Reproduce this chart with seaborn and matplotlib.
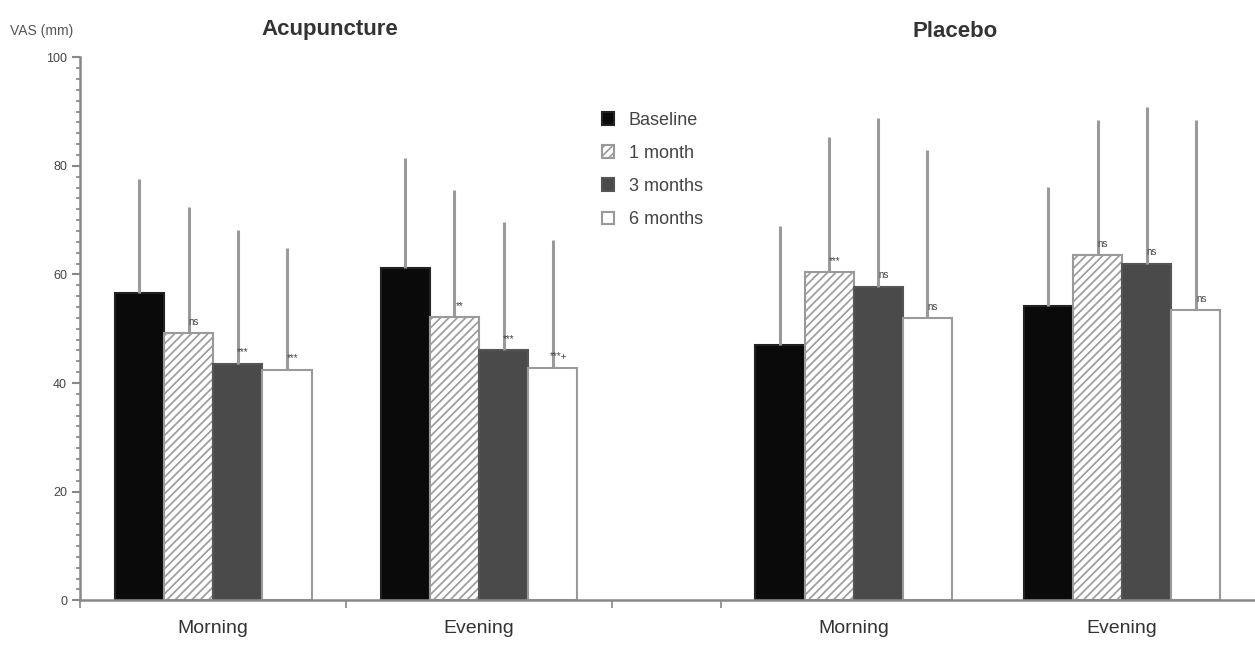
import numpy as np
import pandas as pd
import seaborn as sns
import matplotlib.pyplot as plt
from matplotlib.ticker import MultipleLocator

# 数据：四个分组（针刺/安慰剂 × 早/晚），四个时间点
groups = ["Acu-Morning", "Acu-Evening", "Pla-Morning", "Pla-Evening"]
group_labels = ["Morning", "Evening", "Morning", "Evening"]
group_pos = [0.0, 1.0, 2.41, 3.42]
periods = ["Baseline", "1 month", "3 months", "6 months"]

baseline = [56.6, 61.1, 47.0, 54.1]
month1 = [49.2, 52.1, 60.4, 63.5]
month3 = [43.5, 46.0, 57.7, 62.0]
month6 = [42.4, 42.7, 51.9, 53.4]

sd_baseline = [20.9, 20.3, 22.0, 22.0]
sd_month1 = [23.2, 23.4, 24.9, 24.9]
sd_month3 = [24.6, 23.6, 31.1, 28.8]
sd_month6 = [22.4, 23.6, 31.0, 35.0]

sig_month1 = ["ns", "**", "***", "ns"]
sig_month3 = ["***", "***", "ns", "ns"]
sig_month6 = ["***", "***+", "ns", "ns"]

means = [baseline, month1, month3, month6]
sds = [sd_baseline, sd_month1, sd_month3, sd_month6]
sigs = [None, sig_month1, sig_month3, sig_month6]

rows = []
for p, vals in zip(periods, means):
    for g, x, v in zip(groups, group_pos, vals):
        rows.append({"group": g, "x": x, "period": p, "vas": v})
df = pd.DataFrame(rows)

sns.set_style("white")
plt.rcParams['font.family'] = ['Liberation Sans', 'DejaVu Sans']
plt.rcParams['hatch.color'] = "#aaaaaa"
plt.rcParams['hatch.linewidth'] = 1.2

fig = plt.figure(figsize=(12.55, 6.51), dpi=100)
ax = fig.add_axes([0.064, 0.078, 0.936, 0.834])

face = ["#0a0a0a", "#ffffff", "#4a4a4a", "#ffffff"]
edge = ["#222222", "#9a9a9a", "#555555", "#9a9a9a"]
hatch = [None, "////", None, None]

sns.barplot(data=df, x="x", y="vas", hue="period", hue_order=periods,
            native_scale=True, width=0.74, errorbar=None, dodge=True,
            palette=face, ax=ax, legend=False)

bars = list(ax.containers)
for i, cont in enumerate(bars):
    for p in cont.patches:
        p.set_facecolor(face[i])
        p.set_edgecolor(edge[i])
        p.set_linewidth(1.5)
        if hatch[i]:
            p.set_hatch(hatch[i])

# 误差线（只画上半部分）
for i, cont in enumerate(bars):
    xs = [p.get_x() + p.get_width() / 2 for p in cont.patches]
    hs = [p.get_height() for p in cont.patches]
    ax.errorbar(xs, hs, yerr=[np.zeros(len(hs)), sds[i]], fmt="none",
                ecolor="#9a9a9a", elinewidth=2.2, capsize=0, zorder=1)
    if sigs[i]:
        for x, h, s in zip(xs, hs, sigs[i]):
            ax.text(x + 0.02, h + 1.2, s, fontsize=7, color="#444444",
                    ha="center", va="bottom")

ax.set_xlim(-0.5, 3.92)
ax.set_ylim(0, 100)
ax.set_xticks(group_pos)
ax.set_xticklabels(group_labels, fontsize=14, color="#333333")
ax.set_xticks([-0.5, 0.5, 1.5, 1.91], minor=True)
ax.tick_params(axis="x", which="major", length=0, pad=14)
ax.tick_params(axis="x", which="minor", length=6, width=1.2, color="#888888",
               direction="out", bottom=True)
ax.yaxis.set_major_locator(MultipleLocator(20))
ax.yaxis.set_minor_locator(MultipleLocator(2))
ax.tick_params(axis="y", which="major", length=6, width=1.5, color="#888888",
               labelsize=9, labelcolor="#444444", left=True, direction="out")
ax.tick_params(axis="y", which="minor", length=3, width=1.5, color="#999999",
               left=True, direction="out")
ax.set_xlabel("")
ax.set_ylabel("")
sns.despine(ax=ax)
for s in ["left", "bottom"]:
    ax.spines[s].set_color("#888888")
    ax.spines[s].set_linewidth(1.8)

ax.legend(handles=bars, labels=periods, loc="upper left",
          bbox_to_anchor=(0.43, 0.93), frameon=False, fontsize=13,
          handlelength=0.7, handleheight=0.7, labelspacing=0.9,
          labelcolor="#444444")

fig.text(0.008, 0.952, "VAS (mm)", fontsize=10, color="#555555", va="center")
fig.text(0.263, 0.955, "Acupuncture", fontsize=16, fontweight="bold",
         color="#333333", ha="center", va="center")
fig.text(0.761, 0.952, "Placebo", fontsize=16, fontweight="bold",
         color="#333333", ha="center", va="center")

fig.savefig("out.png", dpi=100)
